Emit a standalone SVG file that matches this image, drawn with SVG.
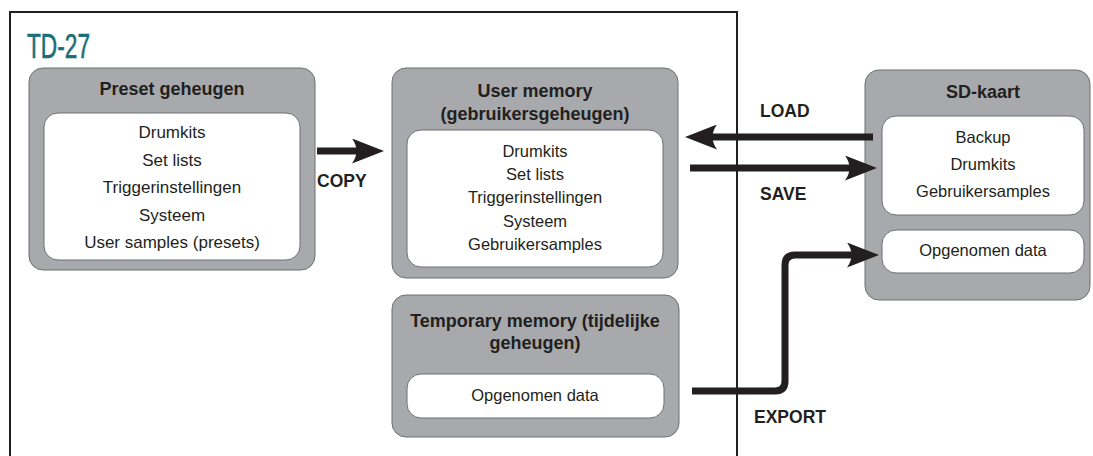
<svg xmlns="http://www.w3.org/2000/svg" width="1093" height="456" viewBox="0 0 1093 456">
<defs>
<style>
.outer{fill:#a7a9ac;stroke:#6d6e71;stroke-width:1}
.inner{fill:#ffffff;stroke:#6d6e71;stroke-width:1}
.t{font-family:"Liberation Sans",Arial,sans-serif;fill:#231f20;text-anchor:middle}
.title{font-size:18px;font-weight:bold}
.item{font-size:16.5px}
.big{font-size:17px}
.lbl{font-family:"Liberation Sans",Arial,sans-serif;fill:#231f20;font-size:17.5px;font-weight:bold}
.arrow{fill:none;stroke:#231f20;stroke-width:7;marker-end:url(#head)}
</style>
<marker id="head" viewBox="0 0 32 25" refX="8" refY="12.5" markerWidth="32" markerHeight="25" markerUnits="userSpaceOnUse" orient="auto">
<path d="M0,0 L32,12.5 L0,25 Q9,12.5 0,0 Z" fill="#231f20"/>
</marker>
</defs>
<rect width="1093" height="456" fill="#ffffff"/>
<g id="frame">
<path d="M10,456 V12 H737 V456" fill="none" stroke="#231f20" stroke-width="2"/>
<text x="27" y="58" font-family="Liberation Sans,Arial,sans-serif" font-size="35" fill="#1a6e77" stroke="#1a6e77" stroke-width="0.6" textLength="63" lengthAdjust="spacingAndGlyphs">TD-27</text>
</g>
<g id="preset">
<rect class="outer" x="29" y="68" width="286" height="202" rx="14"/>
<rect class="inner" x="44" y="113" width="256" height="147" rx="14"/>
<text class="t title" x="172" y="95">Preset geheugen</text>
<text class="t big" x="172" y="138">Drumkits</text>
<text class="t big" x="172" y="166">Set lists</text>
<text class="t big" x="172" y="193">Triggerinstellingen</text>
<text class="t big" x="172" y="221">Systeem</text>
<text class="t big" x="172" y="248">User samples (presets)</text>
</g>
<g id="user">
<rect class="outer" x="392" y="68" width="286" height="210" rx="14"/>
<rect class="inner" x="407" y="130" width="256" height="137" rx="14"/>
<text class="t title" x="535" y="97">User memory</text>
<text class="t title" x="535" y="120">(gebruikersgeheugen)</text>
<text class="t item" x="535" y="157">Drumkits</text>
<text class="t item" x="535" y="180">Set lists</text>
<text class="t item" x="535" y="203">Triggerinstellingen</text>
<text class="t item" x="535" y="227">Systeem</text>
<text class="t item" x="535" y="250">Gebruikersamples</text>
</g>
<g id="temporary">
<rect class="outer" x="392" y="295" width="287" height="142" rx="14"/>
<rect class="inner" x="407" y="374" width="257" height="44" rx="14"/>
<text class="t title" x="535" y="327">Temporary memory (tijdelijke</text>
<text class="t title" x="535" y="349">geheugen)</text>
<text class="t item" x="535" y="401">Opgenomen data</text>
</g>
<g id="sdkaart">
<rect class="outer" x="865" y="70" width="225" height="230" rx="14"/>
<rect class="inner" x="882" y="116" width="202" height="99" rx="14"/>
<rect class="inner" x="882" y="230" width="202" height="43" rx="14"/>
<text class="t title" x="983" y="98">SD-kaart</text>
<text class="t item" x="983" y="143">Backup</text>
<text class="t item" x="983" y="170">Drumkits</text>
<text class="t item" x="983" y="197">Gebruikersamples</text>
<text class="t item" x="983" y="256">Opgenomen data</text>
</g>
<g id="connectors">
<path class="arrow" d="M317,151 H360"/>
<path class="arrow" d="M873,137 H709"/>
<path class="arrow" d="M690,168 H853"/>
<path class="arrow" d="M692,391 H775 Q785,391 785,381 V265 Q785,255 795,255 H855"/>
<text class="lbl" x="317" y="187">COPY</text>
<text class="lbl" x="760" y="117">LOAD</text>
<text class="lbl" x="760" y="200">SAVE</text>
<text class="lbl" x="754" y="423">EXPORT</text>
</g>
</svg>
